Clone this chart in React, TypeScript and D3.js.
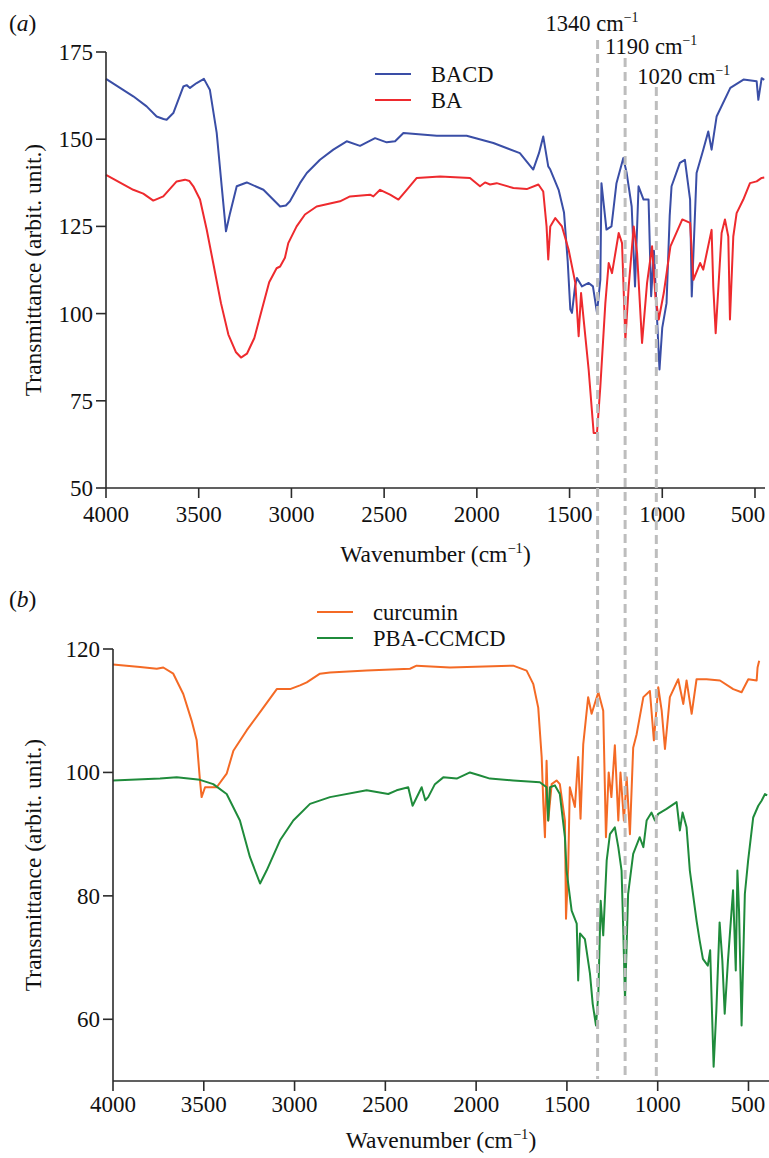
import React from "react";
import * as d3 from "d3";

// ---------- data ----------
const topYTicks = [50, 75, 100, 125, 150, 175];
const bottomYTicks = [60, 80, 100, 120];
const xTicks = [4000, 3500, 3000, 2500, 2000, 1500, 1000, 500];
const annotationWavenumbers = [1340, 1190, 1020];
const annotationLabels = ["1340", "1190", "1020"];

const topSeriesNames = ["BACD", "BA"];
const bottomSeriesNames = ["curcumin", "PBA-CCMCD"];

// [wavenumber, transmittance]
const bacd: [number, number][] = [
  [4000, 167.3], [3853, 162.3], [3781, 159.4], [3727, 156.5], [3690, 155.8], [3673, 155.6],
  [3637, 157.5], [3583, 165.1], [3565, 165.5], [3547, 164.7], [3511, 166.1], [3472, 167.3],
  [3440, 164.2], [3403, 151.8], [3376, 136.5], [3353, 123.6], [3331, 128.8], [3295, 136.5],
  [3241, 137.6], [3151, 135.5], [3061, 130.7], [3030, 131], [3008, 132.2], [2954, 137.4],
  [2917, 140.3], [2846, 144.1], [2774, 147], [2702, 149.4], [2630, 148.1], [2549, 150.3],
  [2486, 149.1], [2441, 149.4], [2396, 151.8], [2216, 151], [2055, 151], [1911, 148.9],
  [1768, 146], [1696, 141.3], [1665, 146], [1642, 150.8], [1615, 142.2], [1604, 141.3],
  [1559, 135.5], [1530, 129], [1510, 115], [1496, 101.2], [1487, 100.2], [1470, 108],
  [1460, 110.2], [1433, 107.8], [1397, 108.8], [1374, 107.8], [1352, 100.2], [1334, 109.7],
  [1328, 137.4], [1301, 124.1], [1274, 125], [1247, 137.4], [1210, 144.6], [1192, 140.3],
  [1165, 130.7], [1147, 107.8], [1128, 136.5], [1101, 132.7], [1074, 132.7], [1060, 105],
  [1045, 118], [1025, 95], [1015, 84], [1000, 96], [977, 103], [960, 128], [950, 136.5],
  [905, 143.2], [878, 144.1], [850, 132.7], [841, 104.9], [815, 140.3], [779, 147],
  [752, 152.2], [734, 147], [707, 156.5], [633, 164.7], [562, 167.1], [491, 166.6],
  [482, 161.3], [464, 167.5], [450, 167],
];

const ba: [number, number][] = [
  [4000, 139.8], [3853, 135.5], [3799, 134.4], [3745, 132.4], [3691, 133.6], [3619, 137.9],
  [3574, 138.4], [3550, 138], [3529, 136.5], [3493, 132.7], [3457, 124.1], [3420, 114],
  [3380, 103], [3340, 94], [3300, 89], [3272, 87.4], [3240, 88.5], [3200, 93], [3160, 101],
  [3120, 109], [3080, 113], [3061, 113.5], [3035, 116], [3017, 120.2], [2972, 125],
  [2927, 128.4], [2864, 130.7], [2738, 132.2], [2684, 133.6], [2576, 134.1], [2558, 133.6],
  [2522, 135.5], [2468, 134.1], [2423, 132.7], [2378, 135.5], [2324, 138.9], [2198, 139.3],
  [2037, 138.9], [1983, 136.5], [1956, 137.6], [1929, 137], [1893, 137.4], [1803, 136],
  [1731, 135.7], [1668, 137], [1642, 135], [1624, 125], [1615, 115.5], [1604, 125],
  [1577, 127.4], [1541, 125], [1505, 118.3], [1469, 108.8], [1451, 93.5], [1438, 105.9],
  [1424, 98.3], [1397, 83.9], [1370, 65.8], [1352, 65.8], [1334, 79.1], [1307, 103],
  [1289, 114.5], [1271, 111.6], [1235, 123.1], [1217, 120.2], [1199, 92.5], [1181, 107.8],
  [1154, 125], [1136, 117.4], [1109, 91.6], [1082, 108.8], [1055, 119.3], [1037, 104.9],
  [1019, 98.3], [992, 105.9], [956, 119.3], [892, 127], [850, 126], [832, 109.7],
  [796, 114.5], [779, 112.6], [734, 124], [725, 107.8], [712, 94.4], [680, 123.1],
  [662, 127], [644, 122.1], [635, 98.3], [617, 122.1], [599, 128.8], [563, 132.7],
  [527, 137.4], [491, 137.9], [464, 138.9], [450, 139],
];

const curcumin: [number, number][] = [
  [4000, 117.5], [3851, 117.1], [3759, 116.8], [3723, 117], [3668, 116], [3613, 112.7],
  [3567, 108.4], [3539, 105.2], [3521, 98.7], [3512, 96], [3493, 97.6], [3429, 97.6],
  [3374, 99.8], [3337, 103.5], [3264, 106.8], [3172, 110.5], [3098, 113.5], [3025, 113.5],
  [2970, 114.1], [2933, 114.6], [2860, 116], [2805, 116.2], [2603, 116.5], [2364, 116.8],
  [2328, 117.3], [2144, 117], [1796, 117.3], [1722, 116.5], [1685, 114.3], [1658, 110.5],
  [1639, 102.5], [1630, 95], [1621, 89.5], [1612, 101.9], [1603, 92.2], [1584, 98.1],
  [1557, 98.7], [1539, 98.1], [1511, 92.2], [1505, 76.3], [1493, 84.6], [1484, 97.6],
  [1456, 94.4], [1438, 102.5], [1425, 92.5], [1410, 104.6], [1383, 112.2], [1364, 109.5],
  [1327, 113], [1300, 110], [1285, 89.5], [1270, 100], [1255, 96], [1236, 104.4],
  [1217, 92.2], [1205, 100], [1186, 92.2], [1171, 99.2], [1153, 90], [1135, 104],
  [1116, 106.2], [1079, 112.2], [1043, 113.2], [1021, 105.2], [997, 113.8], [978, 110],
  [960, 103.8], [933, 112.2], [887, 115.1], [859, 111.1], [841, 114.9], [813, 109.5],
  [786, 115.1], [731, 115.1], [657, 114.9], [584, 113.5], [538, 113], [501, 115.1],
  [455, 114.9], [450, 117], [441, 118.1],
];

const pbaCcmcd: [number, number][] = [
  [4000, 98.7], [3741, 99], [3649, 99.2], [3521, 98.8], [3448, 98.1], [3374, 96.5],
  [3301, 92.2], [3246, 86.3], [3190, 82], [3154, 84.1], [3080, 89], [3007, 92.2],
  [2915, 94.9], [2805, 96], [2603, 97.1], [2484, 96.5], [2438, 97.1], [2374, 97.6],
  [2350, 94.6], [2300, 97.6], [2280, 95.5], [2264, 96], [2227, 98.1], [2181, 99.2],
  [2107, 99], [2034, 100], [1979, 99.5], [1924, 99], [1796, 98.7], [1649, 98.4],
  [1612, 97.6], [1603, 92.2], [1593, 97.6], [1566, 97.9], [1539, 96.5], [1511, 89.5],
  [1502, 84.1], [1474, 77.6], [1446, 75.5], [1438, 66.3], [1428, 73.9], [1401, 73],
  [1373, 67.4], [1358, 62.5], [1340, 59], [1327, 64.1], [1314, 79.2], [1300, 73.6],
  [1281, 85.7], [1263, 90], [1236, 91.1], [1217, 87.9], [1199, 84.1], [1190, 74.9],
  [1180, 63], [1163, 80.3], [1135, 86.8], [1099, 89.5], [1079, 87.9], [1061, 92.2],
  [1034, 93.5], [1015, 92.2], [997, 93.3], [951, 94.1], [896, 95.2], [878, 90.6],
  [863, 93.5], [841, 91.1], [823, 84.1], [786, 76], [769, 72.8], [751, 69.8], [724, 68.7],
  [711, 71.2], [692, 52.3], [677, 61.4], [659, 75.7], [644, 69.5], [631, 60.9],
  [613, 69.5], [585, 80.9], [570, 67.9], [561, 84.1], [552, 77.6], [538, 59], [520, 80.3],
  [502, 85.7], [474, 92.7], [446, 94.6], [428, 95.4], [409, 96.5], [397, 96.3],
];

// ---------- styles ----------
const FONT = "Liberation Serif, Times New Roman, serif";
const FS_TICK = 23;
const FS_TITLE = 23.5;
const FS_LEG = 22.5;
const AXIS = "#2b2b2b";
const COLORS = { bacd: "#3a4ea6", ba: "#ee2a2e", curcumin: "#f46a25", pba: "#1f8b3b" };

// ---------- scales ----------
const xTop = d3.scaleLinear().domain([4000, 446]).range([106, 765]);
const yTop = d3.scaleLinear().domain([50, 175]).range([488, 52]);
const xBot = d3.scaleLinear().domain([4000, 387]).range([113, 769]);
const yBot = d3.scaleLinear().domain([50, 120]).range([1081, 649]);

function lineFor(xs: d3.ScaleLinear<number, number>, ys: d3.ScaleLinear<number, number>) {
  return d3
    .line<[number, number]>()
    .x((d) => xs(d[0]))
    .y((d) => ys(d[1]));
}

function CmLabel({
  x,
  y,
  prefix,
  suffix = "",
  anchor = "start",
  fs,
}: {
  x: number;
  y: number;
  prefix: string;
  suffix?: string;
  anchor?: string;
  fs: number;
}) {
  return (
    <text x={x} y={y} fontFamily={FONT} fontSize={fs} textAnchor={anchor} fill="#111">
      {prefix}
      <tspan fontSize={fs * 0.62} dy={-fs * 0.4}>−1</tspan>
      <tspan dy={fs * 0.4}>{suffix}</tspan>
    </text>
  );
}

function Panel({
  xs,
  ys,
  yTicks,
  series,
  names,
  colors,
  legendX,
  legendY,
  label,
  labelY,
  tickOffset,
  titleOffset,
}: {
  xs: d3.ScaleLinear<number, number>;
  ys: d3.ScaleLinear<number, number>;
  yTicks: number[];
  series: [number, number][][];
  names: string[];
  colors: string[];
  legendX: number;
  legendY: number;
  label: string;
  labelY: number;
  tickOffset: number;
  titleOffset: number;
}) {
  const [x0, x1] = xs.range();
  const [yb, yt] = ys.range();
  const gen = lineFor(xs, ys);
  const midY = (yb + yt) / 2;
  return (
    <g>
      <text x={9} y={labelY} fontFamily={FONT} fontSize={FS_TITLE} fill="#111">
        (<tspan fontStyle="italic">{label}</tspan>)
      </text>
      {series.map((s, i) => (
        <path key={i} d={gen(s) || ""} fill="none" stroke={colors[i]} strokeWidth={2} strokeLinejoin="round" />
      ))}
      <line x1={x0} x2={x0} y1={yt} y2={yb} stroke={AXIS} strokeWidth={1.6} />
      <line x1={x0} x2={x1} y1={yb} y2={yb} stroke={AXIS} strokeWidth={1.6} />
      {yTicks.map((t) => (
        <g key={t}>
          <line x1={x0 - 10} x2={x0} y1={ys(t)} y2={ys(t)} stroke={AXIS} strokeWidth={1.6} />
          <text x={x0 - 13} y={ys(t)} dy="0.35em" textAnchor="end" fontFamily={FONT} fontSize={FS_TICK} fill="#111">
            {t}
          </text>
        </g>
      ))}
      {xTicks.map((t) => (
        <g key={t}>
          <line x1={xs(t)} x2={xs(t)} y1={yb} y2={yb + 10} stroke={AXIS} strokeWidth={1.6} />
          <text
            x={Math.min(xs(t), 748)}
            y={yb + tickOffset}
            textAnchor="middle"
            fontFamily={FONT}
            fontSize={FS_TICK}
            fill="#111"
          >
            {t}
          </text>
        </g>
      ))}
      <CmLabel x={(x0 + x1) / 2} y={yb + titleOffset} prefix="Wavenumber (cm" suffix=")" anchor="middle" fs={FS_TITLE} />
      <text
        transform={`translate(41, ${midY}) rotate(-90)`}
        textAnchor="middle"
        fontFamily={FONT}
        fontSize={FS_TITLE}
        fill="#111"
      >
        Transmittance (arbit. unit.)
      </text>
      {names.map((n, i) => (
        <g key={n}>
          <line
            x1={legendX}
            x2={legendX + 36}
            y1={legendY + i * 26}
            y2={legendY + i * 26}
            stroke={colors[i]}
            strokeWidth={2.2}
          />
          <text x={legendX + 56} y={legendY + i * 26 + 8} fontFamily={FONT} fontSize={FS_LEG} fill="#111">
            {n}
          </text>
        </g>
      ))}
    </g>
  );
}

export default function App() {
  const annStartY = [40, 58, 87];
  const annTextY = [31, 54, 84];
  const annTextDx = [-52, -20, -19];
  return (
    <svg width={769} height={1158} style={{ position: "absolute", left: 0, top: 0, background: "#fff" }}>
      <rect width={769} height={1158} fill="#fff" />
      <Panel
        xs={xTop}
        ys={yTop}
        yTicks={topYTicks}
        series={[bacd, ba]}
        names={topSeriesNames}
        colors={[COLORS.bacd, COLORS.ba]}
        legendX={375}
        legendY={74}
        label="a"
        labelY={31}
        tickOffset={34}
        titleOffset={74}
      />
      <Panel
        xs={xBot}
        ys={yBot}
        yTicks={bottomYTicks}
        series={[curcumin, pbaCcmcd]}
        names={bottomSeriesNames}
        colors={[COLORS.curcumin, COLORS.pba]}
        legendX={317}
        legendY={612}
        label="b"
        labelY={607}
        tickOffset={31}
        titleOffset={67}
      />
      {annotationWavenumbers.map((w, i) => {
        const x = (xTop(w) + xBot(w)) / 2;
        return (
          <g key={w}>
            <line
              x1={x}
              x2={x}
              y1={annStartY[i]}
              y2={yBot(50) - 2}
              stroke="#bdbdbd"
              strokeWidth={3}
              strokeDasharray="9 5"
            />
            <CmLabel x={x + annTextDx[i]} y={annTextY[i]} prefix={`${annotationLabels[i]} cm`} fs={FS_LEG} />
          </g>
        );
      })}
    </svg>
  );
}
